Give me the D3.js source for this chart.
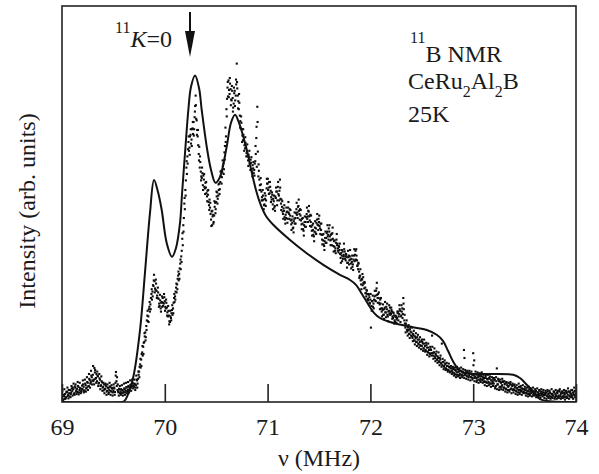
<!DOCTYPE html>
<html><head><meta charset="utf-8">
<script src="https://cdn.jsdelivr.net/npm/d3@7"></script>
<style>
body{margin:0;background:#fff}
svg{display:block}
</style>
</head><body>
<svg id="chart" width="599" height="474"></svg>
<script>
// ---------- data ----------
const xDomain = [69, 74];
const xTickValues = [69, 70, 71, 72, 73, 74];
const yDomain = [0, 99];               // arbitrary intensity units
const arrowFreq = 70.245;               // 11K = 0 position (MHz)

// measured spectrum: three interleaved frequency sweeps, 0.01 MHz step
const sweepAStart = 69.000, sweepBStart = 69.005, sweepCStart = 69.0025, sweepStep = 0.01;
const sweepA = [
1.0,0.5,1.5,2.0,1.2,2.5,1.8,2.2,3.0,2.4,
2.8,3.2,2.2,3.6,2.9,2.5,3.8,3.0,3.4,2.7,
3.2,3.8,2.9,4.2,3.6,4.8,4.0,5.5,5.0,6.2,
6.8,5.6,7.4,6.0,5.2,6.4,4.8,5.6,4.2,4.9,
3.8,4.4,3.2,3.9,2.8,3.5,3.0,3.7,2.6,3.3,
2.8,3.4,4.8,5.2,3.0,2.4,3.1,2.6,2.2,2.9,
2.6,3.2,2.8,3.6,3.0,3.8,3.4,4.2,4.0,4.6,
3.8,4.4,4.2,5.4,5.8,7.6,9.4,10.6,12.4,13.8,
15.0,17.4,19.0,21.6,21.4,23.8,24.4,27.0,27.6,29.0,
30.2,28.0,27.8,26.0,25.8,24.0,23.4,25.0,26.0,24.6,
25.2,23.4,23.6,21.4,21.6,20.0,21.0,23.0,23.4,26.0,
26.4,28.6,29.4,31.6,32.0,34.6,36.4,40.8,44.2,49.6,
53.0,58.6,61.4,65.0,63.6,66.8,65.6,68.4,70.0,71.2,
76.6,70.4,66.4,62.0,58.6,57.6,56.0,54.2,55.6,53.4,
53.6,51.4,51.8,49.2,48.6,45.6,44.2,46.8,46.6,49.8,
50.0,52.4,51.6,54.6,55.0,57.8,57.4,59.6,62.4,68.6,
73.2,78.6,80.4,77.0,78.2,75.4,76.0,74.6,77.8,76.6,
84.6,76.6,73.2,71.6,68.4,68.2,65.4,65.6,63.4,63.8,
62.8,60.4,61.2,59.4,59.8,57.6,58.4,58.0,60.2,66.0,
73.8,56.4,55.6,53.0,52.6,50.4,50.6,49.4,51.6,53.4,
54.6,53.6,52.2,52.8,50.6,49.4,50.2,49.0,51.0,52.6,
53.8,51.6,55.6,49.6,48.8,47.0,47.8,45.6,46.0,47.6,
48.6,47.0,46.6,44.4,44.8,43.6,45.8,46.0,48.2,47.4,
49.0,47.0,46.6,44.4,44.6,42.8,45.0,45.0,47.0,46.4,
47.6,45.4,45.0,42.8,43.0,41.4,43.6,43.4,45.6,44.2,
45.0,43.4,43.0,40.6,40.4,39.0,41.0,41.0,42.6,41.8,
42.6,40.4,40.6,42.2,39.0,38.8,38.4,40.6,39.6,37.4,
38.0,36.0,36.6,37.6,36.8,37.6,35.4,36.2,34.8,36.6,
36.4,34.6,35.0,34.4,36.6,36.8,35.6,35.4,33.2,32.6,
31.6,29.4,30.6,31.2,28.4,28.6,26.4,27.0,25.4,26.2,
25.6,24.0,25.2,24.6,26.4,26.6,28.4,26.0,26.0,24.4,
24.6,22.6,23.0,21.8,23.6,22.4,23.2,21.4,22.8,23.6,
22.0,22.6,21.0,21.6,20.0,21.4,21.0,22.6,22.0,22.8,
21.6,23.4,26.0,20.4,18.6,19.2,17.6,18.0,17.0,17.6,
17.4,16.0,16.6,15.4,16.0,15.0,15.6,14.4,15.0,14.0,
14.0,14.6,13.4,14.0,12.8,13.6,12.4,13.0,12.0,13.0,
16.6,11.6,12.4,11.0,11.6,10.6,11.0,10.0,10.6,9.6,
9.2,10.0,8.6,9.4,8.2,9.0,8.0,8.6,7.6,8.4,
7.4,8.2,7.0,7.8,7.4,6.8,7.6,7.0,7.8,6.8,
7.6,13.0,6.8,7.4,6.4,7.2,6.6,7.0,6.2,6.8,
12.2,10.4,6.4,6.0,6.8,5.6,6.4,5.8,6.6,5.4,
5.8,5.2,6.2,4.8,5.6,5.0,5.8,4.6,5.4,5.0,
4.6,5.6,4.0,8.4,4.4,5.2,3.8,4.8,4.2,5.0,
3.6,4.6,3.2,4.2,3.8,3.0,4.4,3.4,4.0,3.2,
3.0,3.8,2.6,3.4,3.0,2.4,3.6,2.8,3.2,2.6,
2.4,3.2,2.2,2.8,2.6,2.0,3.0,2.4,2.8,2.0,
2.2,2.8,1.8,2.4,2.0,1.6,2.6,2.0,2.4,1.8,
1.8,2.4,1.4,2.0,1.6,2.2,1.2,2.0,1.6,2.4,
2.0,1.4,2.2,1.6,2.6,1.8,1.2,2.2,1.6,2.0,
1.4,2.2,1.8,2.6,1.4,2.0,1.6,2.4,1.8,2.8,
1.8];
const sweepB = [
0.3,1.8,0.8,1.0,2.6,1.5,3.0,1.4,2.0,3.4,
3.6,2.0,3.9,2.6,3.3,4.0,2.4,3.5,2.6,4.1,
4.4,2.8,4.6,3.4,5.0,3.9,5.8,4.6,6.6,5.4,
5.2,8.5,5.8,7.0,6.6,4.6,5.9,4.0,5.2,3.6,
2.9,3.3,4.2,2.6,3.6,2.4,3.9,2.7,3.5,2.4,
3.6,2.5,7.5,6.2,2.6,3.3,2.2,3.2,3.0,2.3,
3.4,2.4,3.7,2.7,4.0,3.1,4.3,3.6,4.8,4.1,
4.6,3.6,5.6,4.6,6.8,8.8,8.6,12.0,11.6,14.8,
16.4,16.2,20.4,20.2,23.2,22.6,26.0,25.6,29.2,31.8,
28.4,29.6,26.6,27.4,24.6,25.4,24.8,23.8,24.8,26.2,
23.8,24.8,22.4,22.8,20.2,21.4,22.2,21.8,24.8,25.0,
27.6,27.4,30.8,30.4,33.4,33.2,37.8,39.2,46.0,48.2,
55.4,57.0,63.2,62.8,66.4,64.6,68.2,67.0,68.2,74.0,
70.8,68.0,64.2,63.8,60.0,56.4,57.2,56.6,53.8,54.8,
52.2,52.8,50.0,50.6,47.0,47.6,46.4,45.0,48.8,48.2,
51.4,50.8,53.0,53.2,56.4,56.2,59.0,58.2,64.0,66.4,
75.8,76.4,78.0,79.6,75.6,77.8,73.6,77.2,75.4,79.4,
78.4,75.2,74.8,70.2,69.8,66.6,66.8,64.2,64.8,62.2,
61.4,61.8,59.6,60.6,58.2,59.2,57.2,59.6,62.0,58.8,
62.6,57.8,54.2,54.4,51.2,51.6,49.2,50.8,50.4,54.6,
53.0,55.0,53.8,51.2,51.8,50.8,48.6,51.4,52.6,50.4,
52.0,52.8,50.8,50.6,47.6,48.4,46.2,46.8,47.4,45.8,
47.4,48.2,45.4,45.6,43.4,45.2,44.6,47.2,46.8,48.8,
47.8,48.2,45.4,45.8,43.2,44.2,43.8,46.2,45.8,47.8,
46.4,46.8,43.8,44.2,41.8,42.6,42.4,44.8,44.4,45.8,
44.0,44.6,41.8,41.8,39.4,40.2,39.8,42.2,41.4,43.4,
41.4,41.8,39.2,40.8,40.2,37.8,39.8,39.2,38.4,38.8,
37.0,37.2,35.2,36.4,38.2,36.4,36.8,34.8,36.2,35.4,
35.6,35.8,33.8,35.6,35.2,37.8,36.6,34.2,34.6,31.4,
30.4,30.8,29.2,29.6,29.8,27.2,27.8,25.8,26.8,24.6,
18.6,25.2,23.8,25.6,25.4,27.8,26.8,27.0,24.8,25.6,
23.4,23.4,21.8,23.2,22.4,23.8,21.8,22.6,22.0,22.4,
23.0,21.4,22.2,20.4,21.2,20.6,22.2,21.4,23.2,21.4,
22.6,22.0,23.2,19.6,19.6,18.0,18.6,17.0,18.2,16.6,
16.4,17.0,15.4,16.4,15.0,16.2,14.6,15.6,14.2,15.2,
15.0,13.4,14.6,13.0,14.2,12.6,13.6,12.2,13.2,12.2,
12.2,12.4,11.4,12.0,10.6,11.4,10.2,11.0,9.8,14.6,
10.0,9.0,9.6,8.4,9.0,8.0,8.8,7.6,8.4,7.8,
8.4,7.2,8.0,6.8,8.2,7.6,6.6,7.8,6.6,7.4,
6.6,11.0,7.4,6.6,7.4,6.2,7.2,6.2,7.0,6.0,
6.6,6.0,7.0,5.4,6.2,6.6,5.4,6.4,5.6,6.2,
5.0,6.0,5.0,5.8,4.8,6.0,4.6,5.4,4.6,5.8,
5.4,3.8,5.2,4.4,5.6,3.6,5.0,3.8,5.2,3.6,
4.4,3.4,4.8,3.0,4.0,4.6,3.2,4.2,3.0,4.2,
3.6,2.8,3.4,2.4,3.8,3.0,2.6,3.4,2.4,3.2,
3.0,2.2,2.8,2.0,3.2,2.6,2.2,2.8,1.8,2.6,
2.6,1.8,2.4,1.6,2.8,2.2,1.8,2.4,1.6,2.2,
2.2,1.6,2.6,1.2,2.4,1.4,2.0,1.6,2.6,1.2,
1.6,2.4,1.2,2.8,1.4,2.2,2.6,1.4,2.4,1.2,
2.4,1.2,2.6,1.6,2.2,3.0,1.2,2.0,2.6,1.4,
2.4];
const sweepC = [
2.8,0.6,3.2,0.8,2.4,3.6,0.9,3.0,1.2,4.0,
1.6,4.6,1.8,4.4,2.0,5.0,1.9,4.8,2.2,3.2,
5.4,2.4,5.6,2.6,6.2,3.0,7.0,3.6,7.8,4.4,
9.0,4.4,8.0,4.8,7.6,4.0,7.0,3.2,6.4,2.8,
4.8,2.2,4.6,1.8,4.4,2.0,4.8,1.8,4.2,1.6,
4.4,1.8,6.6,4.0,4.4,1.6,4.0,1.8,4.2,1.6,
4.6,1.8,4.8,2.2,5.0,2.4,5.4,2.8,5.6,3.4,
5.6,3.0,6.6,3.6,7.6,6.2,10.8,9.0,14.0,12.0,
17.2,15.4,18.0,22.8,20.0,25.0,23.2,28.2,26.4,30.4,
27.4,30.6,26.0,28.6,23.8,26.8,22.6,26.4,24.0,27.0,
22.8,25.6,21.6,24.0,19.4,22.8,20.4,24.2,22.2,27.0,
25.6,29.6,28.2,32.6,30.8,35.6,35.0,42.2,42.6,51.0,
51.6,60.2,59.6,66.4,61.8,68.2,64.0,70.0,66.6,72.6,
74.2,66.8,68.0,60.4,61.4,55.4,58.6,53.0,57.0,52.0,
55.0,50.2,53.0,48.0,49.8,44.0,47.8,44.6,50.2,47.2,
52.6,49.6,54.4,52.0,57.6,54.6,60.4,57.0,60.6,65.0,
71.4,80.0,76.2,81.0,74.2,79.0,72.6,78.6,74.0,80.6,
80.0,73.4,77.0,68.6,71.4,65.0,68.2,62.8,66.2,61.4,
64.4,59.0,62.8,58.0,61.2,56.4,60.0,56.6,64.0,68.8,
70.0,59.4,53.0,56.0,50.4,53.0,48.2,52.2,49.0,55.8,
55.8,52.0,55.0,50.0,52.4,48.2,51.6,47.8,53.6,49.2,
55.0,50.4,53.6,48.0,50.2,45.8,49.2,44.6,48.6,44.8,
50.0,45.8,48.0,43.0,46.4,42.4,47.4,44.6,49.8,46.0,
50.6,45.6,48.0,43.2,46.0,41.6,46.4,43.8,48.6,45.0,
49.0,44.0,46.6,41.6,44.6,40.2,45.2,42.0,47.0,43.0,
46.6,42.0,44.6,39.4,42.0,38.0,42.6,39.8,44.2,40.6,
44.2,39.2,42.0,43.6,37.6,40.4,37.2,42.0,37.8,39.0,
39.6,34.8,38.0,35.8,39.6,35.8,37.0,33.6,37.8,34.4,
38.0,33.4,36.6,33.0,38.2,35.4,38.2,34.0,34.8,31.0,
33.2,28.2,32.0,29.8,30.0,27.2,28.0,25.6,27.0,24.8,
27.0,22.8,26.6,23.4,27.8,25.2,29.8,24.8,27.4,23.2,
26.0,21.4,24.4,20.8,25.0,21.2,24.6,20.2,24.2,21.8,
23.6,20.8,22.4,19.6,21.6,19.8,22.6,20.4,24.2,20.0,
24.2,21.0,24.6,21.8,17.4,20.4,16.6,19.2,16.0,18.8,
18.6,15.2,17.8,14.4,17.2,14.0,16.8,13.6,16.2,13.2,
15.6,12.8,15.6,12.6,14.8,11.8,14.6,11.4,13.8,11.6,
13.8,10.8,13.4,10.2,12.6,9.8,12.4,9.2,11.6,8.8,
10.8,8.2,10.4,8.0,9.8,7.6,9.6,7.4,9.0,7.0,
8.8,6.6,8.6,6.2,8.8,6.4,8.4,6.0,8.6,6.2,
8.2,6.0,8.0,5.8,7.8,5.6,7.8,5.4,7.6,5.6,
9.2,5.2,7.6,5.0,7.4,4.8,7.2,5.0,7.4,4.8,
6.8,4.2,6.6,4.0,6.8,4.2,6.4,3.8,6.2,4.0,
6.0,3.4,6.2,3.2,5.8,3.0,5.6,3.2,5.8,3.0,
5.2,2.6,5.0,2.4,4.8,2.6,5.0,2.2,4.6,2.4,
4.4,2.0,4.2,1.8,4.6,2.0,4.0,1.8,4.2,2.2,
3.8,1.6,3.6,1.4,3.8,1.6,3.4,1.4,3.6,1.6,
3.2,1.2,3.4,1.2,3.0,1.0,3.2,1.4,3.0,1.0,
2.8,0.8,3.0,1.0,2.8,0.8,3.2,1.0,2.6,0.8,
3.0,0.8,2.8,1.0,3.2,0.8,2.6,1.0,3.0,0.6,
2.8,1.0,3.4,0.8,2.6,1.2,3.0,0.8,3.6,1.2,
2.0];

// simulated powder pattern (solid line): [MHz, intensity]
const fitCurve = [
[69.00,0],[69.58,0],[69.605,0.2],[69.632,1.3],[69.694,6.3],[69.759,18],[69.807,32.3],
[69.856,47.3],[69.895,55.5],[69.934,52.5],[69.970,48],[70.018,39.8],[70.070,36.3],
[70.109,38.5],[70.148,44.8],[70.167,51.8],[70.206,65.5],[70.229,73],[70.255,78.8],
[70.294,81.6],[70.333,78.5],[70.359,73],[70.408,63.8],[70.450,58],[70.493,54.8],
[70.537,56.3],[70.602,63.8],[70.644,69.8],[70.683,71.8],[70.722,69.8],[70.764,66.3],
[70.809,61.8],[70.845,57.5],[70.887,53],[70.926,49.8],[70.984,46.5],[71.055,44.3],
[71.218,40.5],[71.380,37.2],[71.542,34.3],[71.704,31.8],[71.802,30.5],[71.860,29.3],
[71.918,27],[71.977,24.5],[72.035,22.3],[72.093,21],[72.191,20],[72.385,18.8],
[72.548,18],[72.645,16.8],[72.706,15.3],[72.755,12.8],[72.807,10],[72.852,8.3],
[72.904,7.3],[73.066,7],[73.390,6.8],[73.455,6],[73.514,4.5],[73.585,2.6],
[73.650,0.7],[73.776,0.1],[74.00,0]
];

// ---------- drawing ----------
const FONT = "'Liberation Serif', 'Times New Roman', Tinos, 'DejaVu Serif', serif";
const svg = d3.select("#chart").style("font-family", FONT);
const plot = {left: 62, right: 576, top: 6, bottom: 402};

const x = d3.scaleLinear().domain(xDomain).range([plot.left, plot.right]);
const y = d3.scaleLinear().domain(yDomain).range([plot.bottom, plot.top]);

svg.append("clipPath").attr("id", "plotclip")
  .append("rect").attr("x", plot.left).attr("y", plot.top)
  .attr("width", plot.right - plot.left).attr("height", plot.bottom - plot.top);
const g = svg.append("g").attr("clip-path", "url(#plotclip)");

// measured points
const points = [];
sweepA.forEach((v, i) => points.push([sweepAStart + i * sweepStep, v]));
sweepB.forEach((v, i) => points.push([sweepBStart + i * sweepStep, v]));
sweepC.forEach((v, i) => points.push([sweepCStart + i * sweepStep, v]));
const ds = 2.1;
g.append("g").selectAll("rect").data(points).join("rect")
  .attr("x", d => x(d[0]) - ds / 2)
  .attr("y", d => y(d[1]) - ds / 2)
  .attr("width", ds).attr("height", ds)
  .attr("fill", "#0d0d0d");

// fitted line
g.append("path").datum(fitCurve)
  .attr("fill", "none").attr("stroke", "#111").attr("stroke-width", 2)
  .attr("d", d3.line().x(d => x(d[0])).y(d => y(d[1])).curve(d3.curveCatmullRom.alpha(0.5)));

// x axis with inward ticks
const xAxis = d3.axisBottom(x).tickValues(xTickValues).tickFormat(d3.format("d"))
  .tickSizeInner(-18).tickSizeOuter(0).tickPadding(16);
const ax = svg.append("g").attr("transform", `translate(0,${plot.bottom})`).call(xAxis);
ax.attr("font-family", null).attr("font-size", null);
ax.select(".domain").remove();
ax.selectAll(".tick line").attr("stroke", "#222").attr("stroke-width", 1.6);
ax.selectAll(".tick text").style("font-family", FONT).style("font-size", "24px").attr("fill", "#1a1a1a");

// frame
svg.append("rect").attr("x", plot.left).attr("y", plot.top)
  .attr("width", plot.right - plot.left).attr("height", plot.bottom - plot.top)
  .attr("fill", "none").attr("stroke", "#222").attr("stroke-width", 1.6);

function label(sel) { return sel.style("font-family", FONT).attr("fill", "#1a1a1a"); }

// axis titles
label(svg.append("text")).attr("x", (plot.left + plot.right) / 2).attr("y", 466)
  .attr("text-anchor", "middle").style("font-size", "24px").text("ν (MHz)");
label(svg.append("text")).attr("transform", `translate(35,${(plot.top + plot.bottom) / 2 + 7}) rotate(-90)`)
  .attr("text-anchor", "middle").style("font-size", "24px").text("Intensity (arb. units)");

// annotation block
const t1 = label(svg.append("text")).attr("x", 410).attr("y", 62).style("font-size", "24px");
t1.append("tspan").style("font-size", "16px").attr("dy", -19).text("11");
t1.append("tspan").attr("dy", 19).text("B NMR");
const t2 = label(svg.append("text")).attr("x", 408).attr("y", 89).style("font-size", "24px");
t2.append("tspan").text("CeRu");
t2.append("tspan").style("font-size", "16px").attr("dy", 8).text("2");
t2.append("tspan").attr("dy", -8).text("Al");
t2.append("tspan").style("font-size", "16px").attr("dy", 8).text("2");
t2.append("tspan").attr("dy", -8).text("B");
label(svg.append("text")).attr("x", 408).attr("y", 122).style("font-size", "24px").text("25K");

// 11K = 0 label and arrow
const t3 = label(svg.append("text")).attr("x", 115).attr("y", 47).style("font-size", "24px");
t3.append("tspan").style("font-size", "16px").attr("dy", -14).text("11");
t3.append("tspan").attr("dy", 14).style("font-style", "italic").text("K");
t3.append("tspan").text("=0");

const ax0 = x(arrowFreq);
svg.append("line").attr("x1", ax0).attr("x2", ax0).attr("y1", 12).attr("y2", 36)
  .attr("stroke", "#111").attr("stroke-width", 2);
svg.append("path")
  .attr("d", `M${ax0 - 5},31 L${ax0 + 5},31 L${ax0},57 Z`)
  .attr("fill", "#111");
</script>
</body></html>
